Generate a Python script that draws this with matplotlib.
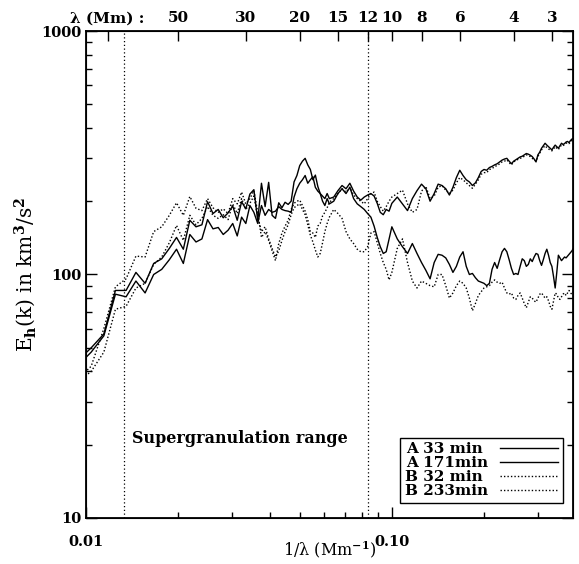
import numpy as np
import matplotlib
matplotlib.use("Agg")
import matplotlib.pyplot as plt
from matplotlib.ticker import FixedLocator, NullFormatter, NullLocator

plt.rcParams['font.family'] = ['DejaVu Serif']
plt.rcParams['font.weight'] = 'bold'
plt.rcParams['mathtext.fontset'] = 'dejavuserif'

# wavenumber grid: mode number * dk (Mm^-1)
dk = 0.00104
modes = list(range(9, 61)) + list(range(62, 97, 2)) + list(range(100, 377, 4))

# E_h(k), km^3/s^2
a33 = [44, 50, 57, 86, 86, 102, 92, 111, 116, 128, 142, 127, 167, 157, 160,
       199, 178, 185, 171, 179, 191, 167, 199, 186, 214, 223, 167, 237, 190, 239,
       175, 170, 197, 188, 198, 194, 200, 240, 255, 280, 292, 300, 282, 270, 245,
       256, 230, 215, 210, 205, 215, 205,
       208, 221, 232, 225, 237, 220, 208, 202, 208, 212, 215, 210, 196, 180, 176,
       185, 182, 196,
       208, 195, 183, 205, 221, 235, 225, 200, 215, 235, 232, 225, 212, 228, 250,
       268, 255, 245, 240, 232, 238, 250, 265, 270, 268, 275, 278, 282, 285, 290,
       295, 298, 300, 292, 285, 292, 296, 300, 304, 306, 310, 314, 312, 309, 305,
       298, 290, 310, 318, 330, 338, 346, 340, 335, 330, 325, 333, 340, 335, 330,
       338, 346, 342, 345, 350, 352, 348, 355, 360, 362]

a171 = [42, 48, 56, 83, 81, 94, 84, 100, 105, 115, 127, 111, 146, 136, 140,
        168, 154, 156, 146, 152, 162, 144, 172, 162, 192, 180, 162, 192, 175, 185,
        180, 182, 190, 185, 183, 182, 180, 208, 225, 237, 245, 255, 237, 245, 252,
        228, 220, 215, 200, 192, 205, 195,
        200, 215, 225, 215, 228, 205, 195, 190, 185, 178, 172, 158, 142, 130, 122,
        124, 140, 157,
        140, 130, 122, 134, 122, 112, 104, 96, 112, 121, 120, 117, 110, 102, 108,
        118, 124, 108, 100, 101, 97, 94, 93, 92, 90, 92, 105, 112, 106, 115,
        124, 128, 124, 115, 106, 100, 101, 100, 108, 116, 114, 108, 110, 116, 113,
        118, 122, 121, 114, 109, 115, 122, 127, 120, 112, 108, 98, 88, 102, 120,
        117, 114, 116, 118, 117, 119, 121, 123, 125, 128]

b32 = [37, 42, 60, 89, 96, 119, 118, 150, 157, 175, 197, 175, 209, 187, 183,
       205, 188, 180, 186, 178, 205, 195, 218, 195, 205, 221, 180, 142, 150, 138,
       125, 114, 134, 148, 158, 167, 185, 196, 200, 202, 192, 182, 168, 150, 148,
       142, 158, 162, 174, 180, 188, 198,
       205, 215, 225, 218, 228, 212, 205, 200, 195, 205, 215, 218, 200, 190, 182,
       190, 200, 208,
       215, 222, 195, 180, 185, 220, 230, 205, 210, 228, 232, 222, 215, 222, 238,
       250, 245, 238, 232, 226, 235, 245, 258, 262, 262, 270, 272, 278, 280, 285,
       290, 292, 296, 288, 282, 290, 294, 297, 300, 302, 306, 310, 308, 305, 300,
       296, 292, 305, 315, 325, 332, 338, 332, 328, 324, 322, 328, 335, 330, 326,
       334, 340, 338, 342, 346, 348, 345, 350, 355, 358]

b233 = [36, 40, 48, 72, 74, 88, 92, 110, 118, 135, 159, 138, 175, 160, 170,
        190, 175, 170, 176, 168, 195, 178, 205, 185, 196, 210, 172, 150, 157, 140,
        128, 118, 125, 138, 150, 160, 176, 188, 192, 195, 185, 176, 160, 145, 136,
        126, 118, 122, 135, 150, 162, 172,
        185, 178, 170, 150, 140, 134, 127, 124, 124, 130, 148, 150, 135, 122, 112,
        105, 95, 102,
        128, 140, 112, 94, 88, 94, 92, 90, 89, 100, 100, 90, 80, 84, 90,
        94, 92, 88, 80, 71, 76, 82, 85, 88, 89, 90, 93, 95, 93, 92,
        93, 88, 84, 83, 84, 80, 79, 82, 84, 80, 76, 73, 77, 81, 80,
        78, 77, 80, 83, 84, 82, 80, 81, 78, 74, 72, 78, 84, 83, 80,
        79, 81, 83, 84, 82, 84, 86, 84, 83, 85]

# trailing space keeps the label column left-aligned (digit = 2 spaces wide)
labels = ['A 33 min ', 'A 171min', 'B 32 min ', 'B 233min']
styles = ['-', '-', (0, (1, 1.5)), (0, (1, 1.5))]

lam_ticks = [85, 50, 30, 20, 15, 12, 10, 8, 6, 4, 3]
lam_labels = ['λ (Mm) :', '50', '30', '20', '15', '12', '10', '8', '6', '4', '3']
range_lam = [75, 12]

k = np.array(modes) * dk

fig = plt.figure(figsize=(5.79, 5.64), dpi=100)
ax = fig.add_axes([0.1485, 0.0816, 0.8411, 0.8634])

for y, lab, ls in zip([a33, a171, b32, b233], labels, styles):
    ax.plot(k, y, color='black', lw=1.0, linestyle=ls, label=lab)

for lam in range_lam:
    ax.axvline(1.0 / lam, color='black', lw=0.9, linestyle=(0, (1, 2)))

ax.set_xscale('log')
ax.set_yscale('log')
ax.set_xlim(0.01, 0.39)
ax.set_ylim(10, 1000)

ax.xaxis.set_major_locator(FixedLocator([0.01, 0.1]))
ax.set_xticklabels(['0.01', '0.10'])
ax.xaxis.set_minor_locator(FixedLocator([0.02, 0.03, 0.04, 0.05, 0.06, 0.07,
                                         0.08, 0.09, 0.2, 0.3]))
ax.xaxis.set_minor_formatter(NullFormatter())
ax.yaxis.set_major_locator(FixedLocator([10, 100, 1000]))
ax.set_yticklabels(['10', '100', '1000'])
ax.yaxis.set_minor_locator(FixedLocator([v * d for d in (10, 100) for v in range(2, 10)]))
ax.yaxis.set_minor_formatter(NullFormatter())

ax.tick_params(which='both', direction='in', top=False, right=True, labelsize=10.5)
ax.tick_params(which='major', length=8, width=1.0)
ax.tick_params(which='minor', length=4.5, width=1.0)
ax.tick_params(axis='x', which='major', pad=12)
ax.tick_params(axis='y', which='major', pad=3)
for s in ax.spines.values():
    s.set_linewidth(1.3)

top = ax.twiny()
top.set_xscale('log')
top.set_xlim(ax.get_xlim())
top.xaxis.set_major_locator(FixedLocator([1.0 / l for l in lam_ticks]))
top.set_xticklabels(lam_labels)
top.xaxis.set_minor_locator(NullLocator())
top.tick_params(which='major', direction='in', length=7, width=1.0, labelsize=11, pad=4)

ax.set_xlabel(r'1/λ (Mm$^{\mathbf{-1}}$)', fontsize=11.5)
ax.xaxis.set_label_coords(0.5, -0.043)
ax.set_ylabel(r'E$_\mathbf{h}$(k) in km$^\mathbf{3}$/s$^\mathbf{2}$', fontsize=14.5)
ax.yaxis.set_label_coords(-0.099, 0.5)

ax.text(0.01414, 20.3, 'Supergranulation range', fontsize=11.5)

leg = ax.legend(loc='lower right', bbox_to_anchor=(0.9795, 0.0308), borderaxespad=0,
                markerfirst=False, prop={'weight': 'bold', 'size': 11},
                handlelength=3.8, labelspacing=0.0, handletextpad=0.8,
                fancybox=False, framealpha=1, edgecolor='black', borderpad=0.3)
leg.get_frame().set_linewidth(1.0)

fig.savefig('out.png', dpi=100)
